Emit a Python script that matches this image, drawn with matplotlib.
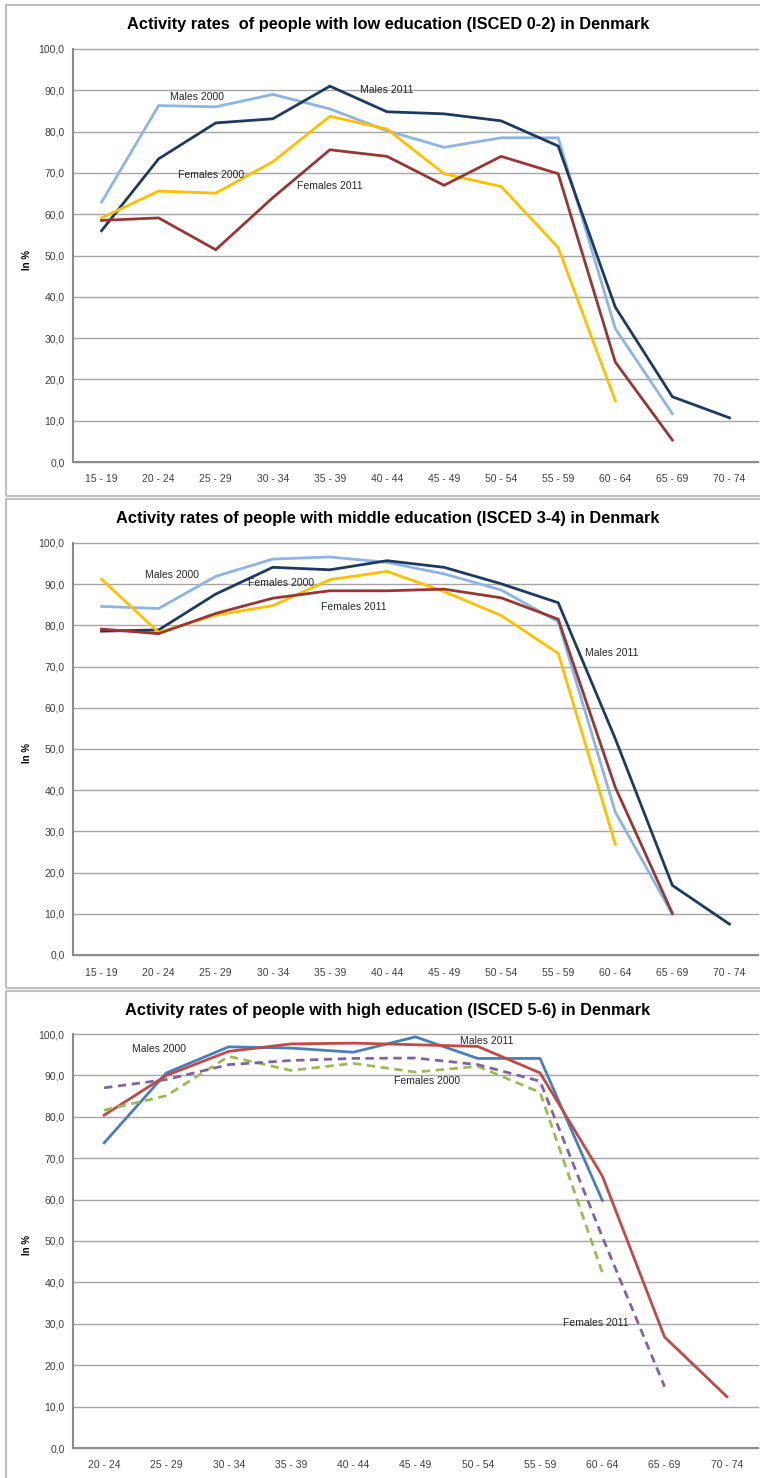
import numpy as np
import matplotlib as mpl
from matplotlib import pyplot as plt
from matplotlib.patches import Rectangle

mpl.rcParams.update({'font.family': ['Liberation Sans', 'DejaVu Sans'], 'font.size': 8})

AGES_LONG = ["15 - 19", "20 - 24", "25 - 29", "30 - 34", "35 - 39", "40 - 44",
             "45 - 49", "50 - 54", "55 - 59", "60 - 64", "65 - 69", "70 - 74"]
AGES_SHORT = AGES_LONG[1:]
SERIES = ["Males 2000", "Males 2011", "Females 2000", "Females 2011"]

# low education (ISCED 0-2)
low_m2000 = [62.9, 86.3, 86.0, 89.0, 85.5, 80.2, 76.2, 78.5, 78.5, 32.3, 11.7]
low_m2011 = [56.0, 73.4, 82.1, 83.1, 91.0, 84.8, 84.3, 82.6, 76.5, 37.5, 15.8, 10.7]
low_f2000 = [59.1, 65.6, 65.1, 72.7, 83.7, 80.6, 69.8, 66.7, 51.9, 14.8]
low_f2011 = [58.5, 59.1, 51.4, 64.0, 75.6, 74.0, 67.0, 74.0, 69.8, 24.2, 5.3]

# middle education (ISCED 3-4)
mid_m2000 = [84.6, 84.1, 91.9, 96.1, 96.6, 95.3, 92.5, 88.6, 80.9, 34.7, 9.9]
mid_m2011 = [78.6, 78.9, 87.6, 94.1, 93.5, 95.7, 94.1, 90.1, 85.5, 52.5, 16.9, 7.5]
mid_f2000 = [91.2, 78.3, 82.5, 84.8, 91.1, 93.1, 88.2, 82.4, 73.2, 26.9]
mid_f2011 = [79.1, 78.0, 82.9, 86.6, 88.4, 88.4, 88.8, 86.7, 81.5, 40.7, 10.1]

# high education (ISCED 5-6)
high_m2000 = [73.7, 90.6, 96.9, 96.6, 95.6, 99.3, 94.1, 94.1, 59.8]
high_m2011 = [80.4, 90.0, 95.8, 97.6, 97.8, 97.4, 97.0, 90.6, 65.7, 26.8, 12.4]
high_f2000 = [81.6, 85.1, 94.6, 91.2, 92.9, 90.8, 92.2, 85.9, 42.4]
high_f2011 = [87.0, 89.0, 92.6, 93.6, 94.1, 94.2, 92.6, 88.6, 51.0, 14.8]

# where the series names are written (category index, value)
low_label_pos = [(1.2, 88.4), (4.52, 90.1), (1.34, 69.5), (3.42, 66.8)]
mid_label_pos = [(0.76, 92.2), (8.47, 73.3), (2.56, 90.3), (3.84, 84.5)]
high_label_pos = [(0.45, 96.4), (5.71, 98.3), (4.66, 88.6), (7.37, 30.3)]

W, H = 760, 1478
PALETTE_A = ['#8EB4E3', '#1F3A5F', '#FFC000', '#953735']
PALETTE_B = ['#4A7EBB', '#BE4B48', '#9BBB59', '#8064A2']


def fx(px):
    return px / W


def fy(py):
    return 1 - py / H


def make_panel(fig, top, bottom, title, title_y, cats, data, colors, styles, label_pos, frame):
    x0, y0, x1, y1 = frame
    fig.patches.append(Rectangle((fx(x0), fy(y1)), fx(x1 - x0), (y1 - y0) / H,
                                 transform=fig.transFigure, fill=False,
                                 edgecolor='#bfbfbf', lw=1.5))
    ax = fig.add_axes([fx(73), fy(bottom), fx(758 - 73), (bottom - top) / H])
    for vals, c, ls in zip(data, colors, styles):
        ax.plot(range(len(vals)), vals, color=c, lw=2.0, linestyle=ls,
                solid_joinstyle='miter', dash_capstyle='butt')
    for name, (xi, v) in zip(SERIES, label_pos):
        ax.text(xi, v, name, fontsize=7.5, ha='left', va='center', color='#262626')

    ax.set_xlim(-0.5, len(cats) - 0.5)
    ax.set_ylim(0, 100)
    ticks = np.arange(0, 101, 10)
    ax.set_yticks(ticks)
    ax.set_yticklabels([f"{t:.1f}".replace('.', ',') for t in ticks])
    ax.set_xticks(range(len(cats)))
    ax.set_xticklabels(cats)
    ax.tick_params(axis='y', length=0, labelsize=7.5, colors='#404040', pad=6)
    ax.tick_params(axis='x', length=0, labelsize=7.5, colors='#404040', pad=9)
    ax.yaxis.grid(True, color='#a6a6a6', lw=1)
    ax.set_axisbelow(True)
    for gl in ax.get_ygridlines():
        gl.set_clip_on(False)
    ax.spines['top'].set_visible(False)
    ax.spines['right'].set_visible(False)
    ax.spines['left'].set_color('#8c8c8c')
    ax.spines['bottom'].set_color('#8c8c8c')
    ax.spines['left'].set_linewidth(1.5)
    ax.spines['bottom'].set_linewidth(1.5)

    fig.text(fx(388), fy(title_y), title, ha='center', va='center',
             fontsize=11.8, fontweight='bold', color='#000000')
    fig.text(fx(27), fy((top + bottom) / 2 + 4), "In %", rotation=90, ha='center',
             va='center', fontsize=7, fontweight='bold')
    return ax


def main():
    fig = plt.figure(figsize=(W / 100, H / 100), dpi=100)
    fig.patch.set_facecolor('white')
    solid = ['-', '-', '-', '-']
    make_panel(fig, 49, 462,
               "Activity rates  of people with low education (ISCED 0-2) in Denmark", 25,
               AGES_LONG, [low_m2000, low_m2011, low_f2000, low_f2011],
               PALETTE_A, solid, low_label_pos, (6, 5, 775, 496))
    make_panel(fig, 543, 955,
               "Activity rates of people with middle education (ISCED 3-4) in Denmark", 518,
               AGES_LONG, [mid_m2000, mid_m2011, mid_f2000, mid_f2011],
               PALETTE_A, solid, mid_label_pos, (6, 499, 775, 988))
    make_panel(fig, 1034, 1448,
               "Activity rates of people with high education (ISCED 5-6) in Denmark", 1011,
               AGES_SHORT, [high_m2000, high_m2011, high_f2000, high_f2011],
               PALETTE_B, ['-', '-', (0, (3, 2)), (0, (3, 2))], high_label_pos,
               (6, 991, 775, 1490))
    fig.savefig("out.png", dpi=100)


if __name__ == '__main__':
    main()
